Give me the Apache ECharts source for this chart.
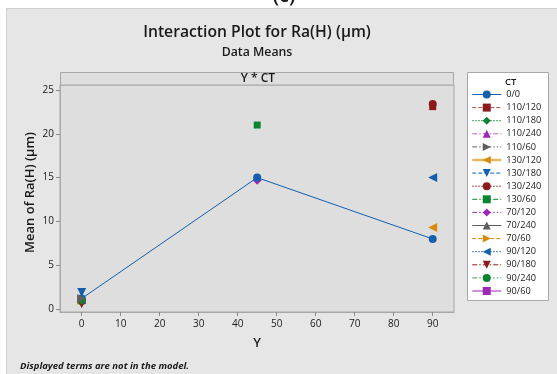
<!DOCTYPE html>
<html>
<head>
<meta charset="utf-8">
<script src="https://cdn.jsdelivr.net/npm/echarts@6/dist/echarts.min.js"></script>
<style>
  html, body { margin: 0; padding: 0; background: #fff; }
  #chart { width: 557px; height: 374px; }
</style>
</head>
<body>
<div id="chart"></div>
<script>
// Interaction plot: mean Ra(H) by Y for each CT level
const yTicks = [0, 10, 20, 30, 40, 50, 60, 70, 80, 90];
const meanTicks = [0, 5, 10, 15, 20, 25];
const yLevels = [0, 45, 90];

// CT level present at every Y
const baseLevel = '0/0';
const baseMeans = [1.2, 15.0, 8.0];

// CT levels observed at a single Y
const singleLevels = ['110/120', '110/180', '110/240', '110/60', '130/120', '130/180', '130/240',
  '130/60', '70/120', '70/240', '70/60', '90/120', '90/180', '90/240', '90/60'];
const singleLevelY = [90, 0, 0, 0, 90, 0, 90, 45, 45, 0, 0, 90, 0, 0, 0];
const singleLevelMean = [23.1, 1.0, 1.1, 1.2, 9.3, 1.9, 23.4, 21.0, 14.7, 1.2, 1.0, 15.0, 0.6, 0.9, 1.1];

// Styling per legend position (0/0 first, then the single levels)
const BLUE = '#1360ae', RED = '#8c1a1a', GREEN = '#0b8431', PURPLE = '#9c27b8', GRAY = '#5e5e5e', ORANGE = '#d88a0c';
const colors = [BLUE, RED, GREEN, PURPLE, GRAY, ORANGE, BLUE, RED, GREEN, PURPLE, GRAY, ORANGE, BLUE, RED, GREEN, PURPLE];
const lineColors = [BLUE, '#b44a4a', GREEN, '#b55ed0', GRAY, '#e8b461', BLUE, RED, GREEN, PURPLE, GRAY, ORANGE, BLUE, RED, '#3c9a55', PURPLE];
const lineWidths = [1, 1, 1, 1, 1, 2.5, 1, 1, 1, 1, 1, 1, 1, 1, 1, 1];
const SOLID = 'solid', DASH = [4, 2], DOT = [1.5, 1.5], DASHDOT = [5, 2, 1.5, 2], DASHDOTDOT = [5, 2, 1.5, 2, 1.5, 2];
const dashes = [SOLID, DASH, DOT, DASHDOT, DASHDOTDOT, SOLID, DASH, DOT, DASHDOT, DASHDOTDOT, SOLID, DASH, DOT, DASHDOT, DASHDOTDOT, SOLID];
const symbols = ['circle', 'rect', 'diamond', 'triangle', 'triangle', 'triangle', 'triangle', 'circle',
  'rect', 'diamond', 'triangle', 'triangle', 'triangle', 'triangle', 'circle', 'rect'];
const rotations = [0, 0, 0, 0, -90, 90, 180, 0, 0, 0, 0, -90, 90, 180, 0, 0];
const symbolSizes = { circle: 8, rect: 7, diamond: 9, triangle: 9 };
// stacking inside the crowded Y = 0 cluster
const zOrder = [3, 2, 5, 1, 6, 2, 8, 2, 2, 2, 1, 1, 2, 4, 1, 1];

const allLevels = [baseLevel].concat(singleLevels);

function makeSeries(i, data) {
  return {
    name: allLevels[i],
    type: 'line',
    data: data,
    z: zOrder[i],
    symbol: symbols[i],
    symbolSize: symbolSizes[symbols[i]],
    symbolRotate: rotations[i],
    itemStyle: { color: colors[i] },
    lineStyle: { color: lineColors[i], width: lineWidths[i], type: dashes[i] },
    emphasis: { disabled: true },
    animation: false
  };
}

const series = [makeSeries(0, yLevels.map((y, k) => [y, baseMeans[k]]))];
singleLevels.forEach((lvl, k) => {
  series.push(makeSeries(k + 1, [[singleLevelY[k], singleLevelMean[k]]]));
});

const FONT = '"Open Sans", "Noto Sans", sans-serif';
const chart = echarts.init(document.getElementById('chart'), null, { renderer: 'canvas' });

chart.setOption({
  backgroundColor: '#e6e6e6',
  animation: false,
  textStyle: { fontFamily: FONT },
  grid: {
    left: 60, right: 103, top: 85, bottom: 62,
    show: true, backgroundColor: '#dedede', borderColor: '#a8a8a8', borderWidth: 1
  },
  xAxis: {
    type: 'value', min: -5.56, max: 95.46,
    name: 'Y', nameLocation: 'middle', nameGap: 25,
    nameTextStyle: { fontFamily: FONT, fontSize: 13, fontWeight: 600, color: '#1a1a1a' },
    axisLine: { show: true, onZero: false, lineStyle: { color: '#a8a8a8' } },
    axisTick: { show: true, length: 4, customValues: yTicks, lineStyle: { color: '#8a8a8a' } },
    axisLabel: { customValues: yTicks, margin: 7, fontSize: 10, color: '#1a1a1a', fontFamily: FONT },
    splitLine: { show: false }
  },
  yAxis: {
    type: 'value', min: -0.34, max: 25.57,
    axisLine: { show: true, onZero: false, lineStyle: { color: '#a8a8a8' } },
    axisTick: { show: true, length: 4, customValues: meanTicks, lineStyle: { color: '#8a8a8a' } },
    axisLabel: { customValues: meanTicks, margin: 6, fontSize: 10, color: '#1a1a1a', fontFamily: FONT },
    splitLine: { show: false }
  },
  legend: {
    orient: 'vertical', left: 471, top: 89.5, padding: 0, z: 20,
    data: allLevels, selectedMode: false,
    itemWidth: 29, itemHeight: 10, itemGap: 3.1,
    lineStyle: { width: 'inherit' },
    textStyle: { fontSize: 9.2, lineHeight: 10, color: '#1a1a1a', fontFamily: FONT, padding: [0, 0, 0, 0] }
  },
  graphic: [
    { type: 'rect', z: 1, shape: { x: 0, y: 0, width: 557, height: 8 }, style: { fill: '#ffffff' } },
    { type: 'rect', z: 1, shape: { x: 0, y: 0, width: 6, height: 374 }, style: { fill: '#ffffff' } },
    { type: 'polyline', z: 1, shape: { points: [[6.5, 374], [6.5, 8.5], [557, 8.5]] }, style: { stroke: '#cfcfcf', fill: null, lineWidth: 1 } },
    { type: 'text', z: 2, x: 284, y: 6, style: { text: '(c)', font: '600 20px ' + FONT, fill: '#1a1a1a', align: 'center', verticalAlign: 'bottom' } },
    { type: 'text', z: 2, x: 257, y: 33, style: { text: 'Interaction Plot for Ra(H) (µm)', font: '600 15.7px ' + FONT, fill: '#1a1a1a', align: 'center', verticalAlign: 'middle' } },
    { type: 'text', z: 2, x: 257, y: 52, style: { text: 'Data Means', font: '600 12.3px ' + FONT, fill: '#1a1a1a', align: 'center', verticalAlign: 'middle' } },
    { type: 'text', z: 2, x: 30.5, y: 192.5, rotation: Math.PI / 2, style: { text: 'Mean of Ra(H) (µm)', font: '600 13px ' + FONT, fill: '#1a1a1a', align: 'center', verticalAlign: 'middle' } },
    { type: 'rect', z: 2, shape: { x: 60.5, y: 72.5, width: 393, height: 12.5 }, style: { fill: '#dedede', stroke: '#a8a8a8', lineWidth: 1 } },
    { type: 'text', z: 3, x: 258, y: 78.5, style: { text: 'Y * CT', font: '600 12px ' + FONT, fill: '#1a1a1a', align: 'center', verticalAlign: 'middle' } },
    { type: 'rect', z: 2, shape: { x: 467.5, y: 72.5, width: 81, height: 228 }, style: { fill: '#ffffff', stroke: '#a8a8a8', lineWidth: 1 } },
    { type: 'text', z: 3, x: 505, y: 82, style: { text: 'CT', font: '600 9.5px ' + FONT, fill: '#1a1a1a', align: 'left', verticalAlign: 'middle' } },
    { type: 'text', z: 2, x: 20, y: 366, style: { text: 'Displayed terms are not in the model.', font: 'italic 700 9.5px ' + FONT, fill: '#1a1a1a', align: 'left', verticalAlign: 'middle' } }
  ],
  series: series
});
</script>
</body>
</html>
